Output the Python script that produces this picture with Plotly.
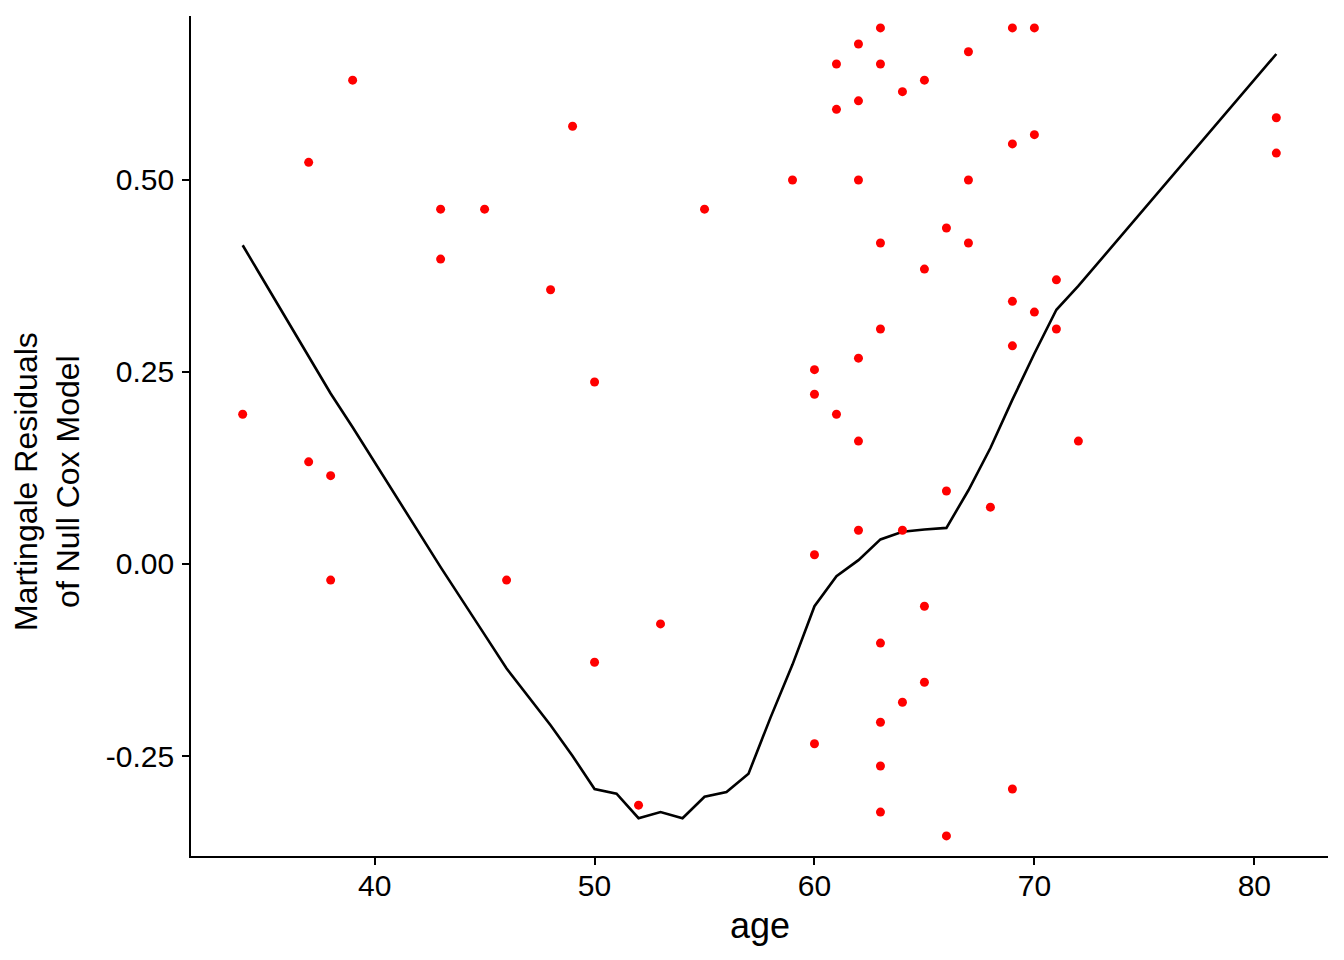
import plotly.graph_objects as go

# Scatter: martingale residuals by age
age = [34, 37, 37, 38, 38, 39, 43, 43, 45, 46, 48, 49, 50, 50, 52, 53, 55, 59,
       60, 60, 60, 60, 61, 61, 61, 62, 62, 62, 62, 62, 62,
       63, 63, 63, 63, 63, 63, 63, 63, 64, 64, 64, 65, 65, 65, 65,
       66, 66, 66, 67, 67, 67, 68, 69, 69, 69, 69, 69, 70, 70, 70,
       71, 71, 72, 81, 81]
resid = [0.195, 0.523, 0.133, 0.115, -0.021, 0.630, 0.462, 0.397, 0.462, -0.021,
         0.357, 0.570, 0.237, -0.128, -0.314, -0.078, 0.462, 0.500,
         0.253, 0.221, 0.012, -0.234, 0.651, 0.592, 0.195,
         0.677, 0.603, 0.500, 0.268, 0.160, 0.044,
         0.698, 0.651, 0.418, 0.306, -0.103, -0.206, -0.263, -0.323,
         0.615, 0.044, -0.180, 0.630, 0.384, -0.055, -0.154,
         0.4375, 0.095, -0.354, 0.667, 0.500, 0.418, 0.074,
         0.698, 0.547, 0.342, 0.284, -0.293, 0.698, 0.559, 0.328,
         0.370, 0.306, 0.160, 0.581, 0.535]

# Smoothed fit line
fit_age = [34, 37, 38, 39, 43, 45, 46, 48, 49, 50, 51, 52, 53, 54, 55, 56, 57, 58,
           59, 60, 61, 62, 63, 64, 65, 66, 67, 68, 69, 70, 71, 72, 81]
fit_val = [0.415, 0.270, 0.222, 0.178, -0.004, -0.092, -0.136, -0.210, -0.250,
           -0.293, -0.299, -0.331, -0.323, -0.331, -0.303, -0.297, -0.273, -0.200,
           -0.131, -0.055, -0.016, 0.005, 0.032, 0.042, 0.045, 0.047, 0.096,
           0.151, 0.214, 0.274, 0.331, 0.362, 0.664]

x_ticks = [40, 50, 60, 70, 80]
y_ticks = [-0.25, 0.0, 0.25, 0.50]
y_tick_labels = ["-0.25", "0.00", "0.25", "0.50"]

FONT = "Liberation Sans, Arial, sans-serif"

fig = go.Figure()
fig.add_trace(go.Scatter(x=fit_age, y=fit_val, mode="lines",
                         line=dict(color="black", width=2.6), showlegend=False,
                         hoverinfo="skip"))
fig.add_trace(go.Scatter(x=age, y=resid, mode="markers",
                         marker=dict(color="#FF0000", size=9, line=dict(width=0)),
                         showlegend=False))

axis_common = dict(showgrid=False, zeroline=False, showline=True, linecolor="black",
                   linewidth=1.6, ticks="outside", ticklen=7, tickwidth=1.6,
                   tickcolor="black", tickfont=dict(size=30, color="black", family=FONT))

fig.update_layout(
    width=1336, height=952,
    margin=dict(l=183, r=16, t=8, b=104),
    plot_bgcolor="white", paper_bgcolor="white",
    font=dict(family=FONT, color="black", size=30),
    xaxis=dict(range=[31.65, 83.35], tickvals=x_ticks, ticklabelstandoff=-5,
               **axis_common),
    yaxis=dict(range=[-0.3802, 0.7135], tickvals=y_ticks, ticktext=y_tick_labels,
               ticklabelstandoff=2, **axis_common),
    annotations=[
        dict(text="age", xref="paper", yref="paper", x=0.5, y=0, yshift=-69,
             xanchor="center", yanchor="middle", showarrow=False,
             font=dict(size=36, family=FONT, color="black")),
        dict(text="Martingale Residuals<br>of Null Cox Model", xref="paper",
             yref="paper", x=0, y=0.5, xshift=-144, yshift=-46, xanchor="center",
             yanchor="middle", textangle=-90, showarrow=False,
             font=dict(size=32, family=FONT, color="black")),
    ],
)

fig.write_html("out.html")
